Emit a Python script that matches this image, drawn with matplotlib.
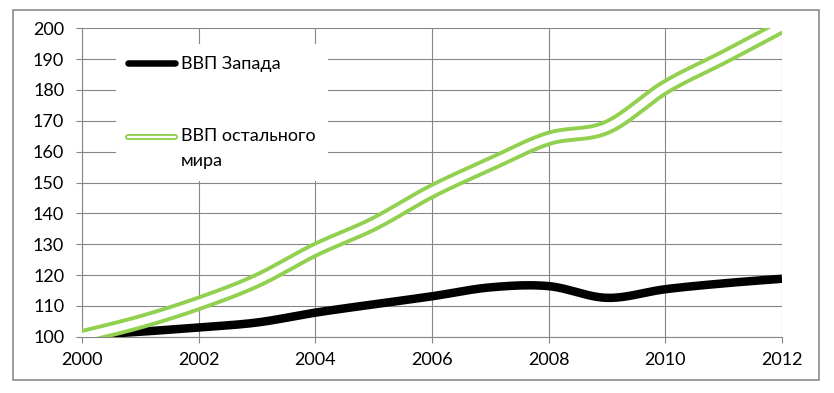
import numpy as np
import matplotlib
matplotlib.use("Agg")
import matplotlib.pyplot as plt
from matplotlib.lines import Line2D
from matplotlib.patches import Rectangle
from matplotlib.legend_handler import HandlerTuple

# data
years = [2000, 2001, 2002, 2003, 2004, 2005, 2006, 2007, 2008, 2009, 2010, 2011, 2012]
gdp_west = [100.4, 101.6, 103.0, 104.6, 107.8, 110.5, 113.1, 116.0, 116.4, 112.6, 115.4, 117.3, 118.8]
gdp_rest = [100.0, 104.8, 110.8, 118.2, 128.2, 136.6, 147.2, 156.0, 164.3, 167.9, 180.9, 190.6, 200.6]
labels = ["ВВП Запада", "ВВП остального\nмира"]

plt.rcParams['font.family'] = ['Lato', 'DejaVu Sans']

GRAY = '#868686'
GREEN = '#92D050'
PX = 72 / 100  # one pixel in points
FS = 13


def smooth(x, y, n=24):
    # Catmull-Rom curve through the points, like Excel's "smoothed line"
    p = np.column_stack([x, y]).astype(float)
    p = np.vstack([p[0], p, p[-1]])
    out = []
    t = np.linspace(0, 1, n, endpoint=False)[:, None]
    for i in range(1, len(p) - 2):
        p0, p1, p2, p3 = p[i - 1], p[i], p[i + 1], p[i + 2]
        c = 0.5 * (2 * p1 + (-p0 + p2) * t + (2 * p0 - 5 * p1 + 4 * p2 - p3) * t ** 2
                   + (-p0 + 3 * p1 - 3 * p2 + p3) * t ** 3)
        out.append(c)
    out.append(p[-2][None, :])
    c = np.vstack(out)
    return c[:, 0], c[:, 1]


fig = plt.figure(figsize=(8.34, 3.93), dpi=100)
fig.patches.append(Rectangle((12.5 / 834, 1 - 380 / 393), (819 - 12.5) / 834, (380 - 9.5) / 393,
                             transform=fig.transFigure, fill=False, edgecolor=GRAY, lw=1.6 * PX))

ax = fig.add_axes([82 / 834, 1 - 336.7 / 393, 700 / 834, 308.4 / 393])

xs, ys = smooth(years, gdp_west)
ax.plot(xs, ys, color='black', lw=8.5 * PX, solid_capstyle='butt', zorder=3)
xs, ys = smooth(years, gdp_rest)
ax.plot(xs, ys, color=GREEN, lw=15 * PX, solid_capstyle='butt', zorder=3)
ax.plot(xs, ys, color='white', lw=7.2 * PX, solid_capstyle='butt', zorder=3)

ax.set_xlim(2000, 2012)
ax.set_ylim(100, 200)
ax.set_xticks(range(2000, 2013, 2))
ax.set_yticks(range(100, 201, 10))
ax.grid(True, color=GRAY, lw=1.1 * PX)
ax.set_axisbelow(True)
for s in ['top', 'right']:
    ax.spines[s].set_visible(False)
for s in ['left', 'bottom']:
    ax.spines[s].set_color(GRAY)
    ax.spines[s].set_linewidth(1.1 * PX)
ax.tick_params(axis='both', length=6 * PX, width=1.1 * PX, color=GRAY, labelsize=FS,
               labelcolor='black')
ax.tick_params(axis='y', pad=8.5)
ax.tick_params(axis='x', pad=7)


class FirstLineTuple(HandlerTuple):
    # put the sample beside the first line of a two-line label
    def create_artists(self, legend, orig_handle, xdescent, ydescent, width, height,
                       fontsize, trans):
        arts = super().create_artists(legend, orig_handle, xdescent, ydescent, width,
                                      height, fontsize, trans)
        for a in arts:
            a.set_ydata(np.asarray(a.get_ydata()) + 0.68 * fontsize)
        return arts


h1 = Line2D([], [], color='black', lw=6.5 * PX, solid_capstyle='round')
h2 = (Line2D([], [], color=GREEN, lw=6 * PX, solid_capstyle='round'),
      Line2D([], [], color='white', lw=2.2 * PX, solid_capstyle='round'))
leg = ax.legend([h1, h2], labels, loc='upper left',
                bbox_to_anchor=((116 - 82) / 700, (336.7 - 44) / 308.4),
                handler_map={tuple: FirstLineTuple(ndivide=1, pad=0)},
                prop={'size': FS}, frameon=True, facecolor='white', edgecolor='none',
                framealpha=1, fancybox=False, handlelength=2.6, handletextpad=0.33,
                labelspacing=3.12, borderpad=0.67, borderaxespad=0)
for t in leg.get_texts():
    t.set_linespacing(1.65)

fig.savefig('out.png', dpi=100)
